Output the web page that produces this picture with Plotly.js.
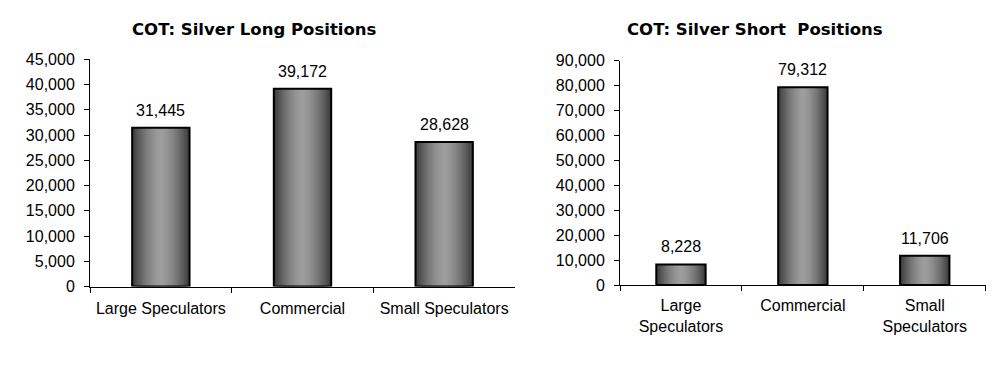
<!DOCTYPE html>
<html>
<head>
<meta charset="utf-8">
<script src="https://cdn.plot.ly/plotly-3.0.1.min.js"></script>
<style>html,body{margin:0;padding:0;background:#fff;}#chart{width:1008px;height:382px;}</style>
</head>
<body>
<div id="chart"></div>
<script>
// ---- data ----
const categories = ["Large Speculators", "Commercial", "Small Speculators"];
const shortCategoryLabels = ["Large<br>Speculators", "Commercial", "Small<br>Speculators"];
const longValues = [31445, 39172, 28628];
const shortValues = [8228, 79312, 11706];
const longTitle = "COT: Silver Long Positions";
const shortTitle = "COT: Silver Short\u00a0 Positions";
const longTickVals = [0, 5000, 10000, 15000, 20000, 25000, 30000, 35000, 40000, 45000];
const shortTickVals = [0, 10000, 20000, 30000, 40000, 50000, 60000, 70000, 80000, 90000];

// ---- styling ----
const FONT = "'Liberation Sans', Arial, sans-serif";
const TFONT = "'DejaVu Sans', Verdana, sans-serif";
const BARW = 0.405;
const LAYERS = 16;

function shade(t) { // t: 0 center -> 1 edge
  const c = Math.round(158 - (158 - 62) * Math.pow(t, 1.6));
  return `rgb(${c},${c},${c})`;
}

function barTraces(vals, xa, ya) {
  const out = [];
  for (let i = 0; i < LAYERS; i++) {
    const t = 1 - i / LAYERS;
    out.push({
      type: 'bar', x: categories, y: vals, xaxis: xa, yaxis: ya,
      width: BARW * t, marker: { color: shade(t), line: { width: 0 } },
      hoverinfo: 'skip', showlegend: false
    });
  }
  out.push({
    type: 'bar', x: categories, y: vals, xaxis: xa, yaxis: ya,
    width: BARW, marker: { color: 'rgba(0,0,0,0)', line: { width: 2, color: '#000' } },
    hoverinfo: 'skip', showlegend: false
  });
  return out;
}

const data = [].concat(barTraces(longValues, 'x', 'y'), barTraces(shortValues, 'x2', 'y2'));

const annotations = [];
categories.forEach((c, i) => {
  annotations.push({ x: c, y: longValues[i], xref: 'x', yref: 'y', text: longValues[i].toLocaleString('en-US'),
    showarrow: false, yanchor: 'bottom', yshift: 7, font: { family: FONT, size: 16, color: '#000' } });
  annotations.push({ x: c, y: shortValues[i], xref: 'x2', yref: 'y2', text: shortValues[i].toLocaleString('en-US'),
    showarrow: false, yanchor: 'bottom', yshift: 7, font: { family: FONT, size: 16, color: '#000' } });
});
annotations.push({ x: 254 / 1008, y: 1 - 29 / 382, xref: 'paper', yref: 'paper', text: '<b>' + longTitle + '</b>',
  showarrow: false, xanchor: 'center', yanchor: 'middle', font: { family: TFONT, size: 16.5, color: '#000' } });
annotations.push({ x: 755 / 1008, y: 1 - 29 / 382, xref: 'paper', yref: 'paper', text: '<b>' + shortTitle + '</b>',
  showarrow: false, xanchor: 'center', yanchor: 'middle', font: { family: TFONT, size: 16.5, color: '#000' } });

const xCommon = {
  type: 'category', range: [-0.5, 2.5], tickson: 'boundaries', ticks: 'outside', ticklen: 5,
  tickcolor: '#000', tickwidth: 1, showline: true, linecolor: '#000', linewidth: 1,
  showgrid: false, zeroline: false, tickfont: { family: FONT, size: 16, color: '#000' },
  ticklabelstandoff: 7, fixedrange: true
};
const yCommon = {
  ticks: 'outside', ticklen: 5, tickcolor: '#000', tickwidth: 1, showline: true, linecolor: '#000', linewidth: 1,
  showgrid: false, zeroline: false, tickformat: ',d', tickfont: { family: FONT, size: 16, color: '#000' },
  ticklabelstandoff: 6, fixedrange: true
};

const layout = {
  width: 1008, height: 382, margin: { l: 0, r: 0, t: 0, b: 0 },
  paper_bgcolor: '#fff', plot_bgcolor: 'rgba(0,0,0,0)', barmode: 'overlay', showlegend: false,
  xaxis: Object.assign({}, xCommon, { domain: [90 / 1008, 515 / 1008], anchor: 'y', tickvals: categories, ticktext: categories }),
  yaxis: Object.assign({}, yCommon, { domain: [(382 - 286.5) / 382, (382 - 59.3) / 382], anchor: 'x', range: [0, 45000], tickvals: longTickVals }),
  xaxis2: Object.assign({}, xCommon, { domain: [620 / 1008, 985.7 / 1008], anchor: 'y2', tickvals: categories, ticktext: shortCategoryLabels, ticklabelstandoff: 6 }),
  yaxis2: Object.assign({}, yCommon, { domain: [(382 - 285) / 382, (382 - 60.7) / 382], anchor: 'x2', range: [0, 90000], tickvals: shortTickVals }),
  annotations: annotations
};

Plotly.newPlot('chart', data, layout, { displayModeBar: false, staticPlot: true });
</script>
</body>
</html>
